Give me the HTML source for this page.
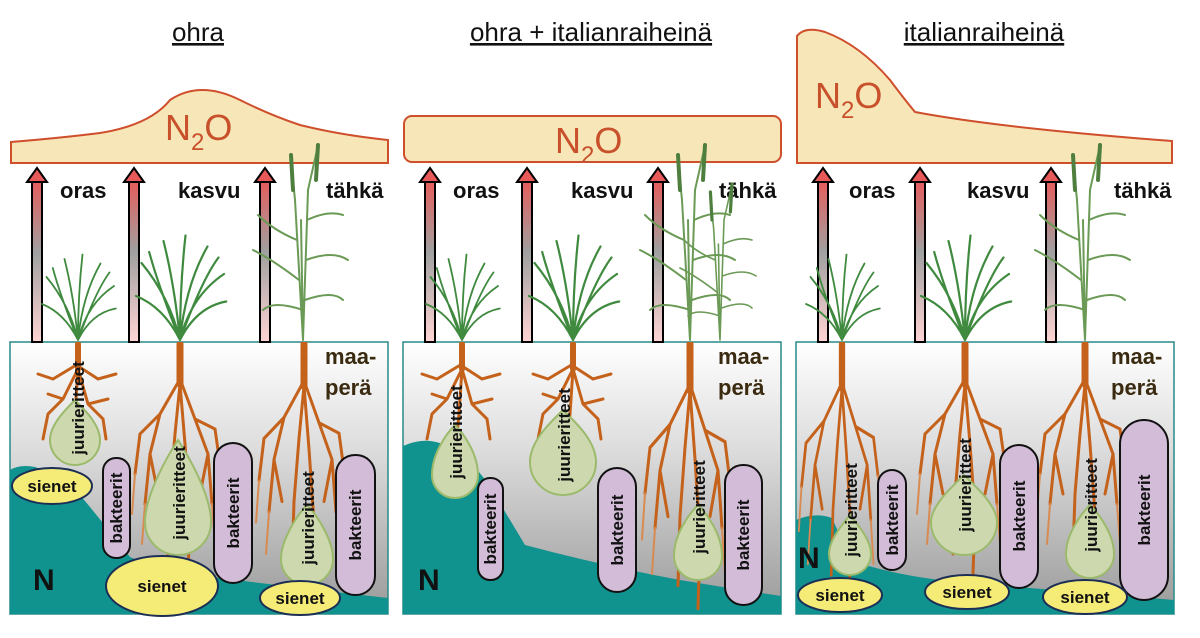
<!DOCTYPE html>
<html><head><meta charset="utf-8"><style>
html,body{margin:0;padding:0;background:#fff;width:1200px;height:638px;overflow:hidden}
svg{display:block}
text{font-family:"Liberation Sans","DejaVu Sans",sans-serif}
.t{font-size:26px;fill:#111;text-decoration:underline}
.lb{font-size:22px;font-weight:bold;fill:#111}
.n2o{font-size:36px;fill:#c8502a}
.ju{font-size:17px;font-weight:bold;fill:#111}
.mp{font-size:22px;font-weight:bold;fill:#3a2a10}
.N{font-size:30px;font-weight:bold;fill:#111}
</style></head><body>
<svg width="1200" height="638" viewBox="0 0 1200 638" xmlns="http://www.w3.org/2000/svg">
<defs>
<clipPath id="c1"><rect x="10" y="342" width="378" height="272"/></clipPath>
<clipPath id="c2"><rect x="403" y="342" width="378" height="272"/></clipPath>
<clipPath id="c3"><rect x="796" y="342" width="378" height="272"/></clipPath>
<linearGradient id="soil" x1="0" y1="0" x2="0" y2="1">
<stop offset="0" stop-color="#ffffff"/><stop offset="0.4" stop-color="#dcdcdc"/><stop offset="1" stop-color="#9a9a9a"/>
</linearGradient>
<linearGradient id="arr" x1="0" y1="0" x2="0" y2="1">
<stop offset="0" stop-color="#e85a5a"/><stop offset="0.45" stop-color="#a0a0a0"/><stop offset="1" stop-color="#ffd4d4"/>
</linearGradient>
<g id="arrow">
<rect x="-5" y="178" width="10" height="164" fill="url(#arr)" stroke="#000" stroke-width="2"/>
<polygon points="-10,182 0,168 10,182" fill="#e85a5a" stroke="#000" stroke-width="2"/>
</g>
<g id="root" fill="none" stroke="#c4621c" stroke-linecap="round">
<path d="M0,0 L0,40" stroke-width="7"/>
<path d="M0,35 L-20,70 L-30,110 L-35,160 M0,35 L15,75 L28,110 L32,160 M0,40 L-5,90 L-10,150 L-12,210 M0,40 L5,100 L10,170 L8,230 M-20,70 L-40,90 L-45,130 M15,75 L35,85 L40,120 M-30,110 L-22,150 M28,110 L20,150" stroke-width="3"/>
<path d="M-35,160 L-38,200 M32,160 L35,200 M-45,130 L-48,170 M40,120 L44,160" stroke-width="2" stroke="#d88a50"/>
</g>
<g id="rootS" fill="none" stroke="#c4621c" stroke-linecap="round">
<path d="M0,0 L0,25" stroke-width="6"/>
<path d="M0,20 L-25,35 L-40,30 M0,22 L20,35 L38,30 M0,25 L-15,55 L-30,70 L-35,95 M0,25 L10,60 L25,75 L28,95 M0,25 L-3,70 L-6,100 M-15,55 L-30,50 M10,60 L30,55" stroke-width="3"/>
</g>
<g id="grass" fill="none" stroke="#3f8a3f" stroke-width="2" stroke-linecap="round">
<path d="M0,0 Q-10,-40 -35,-70 M0,0 Q-5,-50 -15,-90 M0,0 Q5,-50 25,-85 M0,0 Q10,-40 40,-60 M0,0 Q-15,-30 -40,-40 M0,0 Q15,-30 42,-35 M0,0 Q0,-50 5,-95 M0,0 Q-20,-50 -28,-80 M0,0 Q20,-55 35,-75"/>
</g>
<g id="tall" fill="none" stroke="#6a9a55" stroke-width="2" stroke-linecap="round">
<path d="M0,0 L-8,-140 L-12,-180 M0,0 L5,-150 L14,-190 M0,0 L-2,-120 M-4,-60 Q-30,-80 -50,-90 M-6,-100 Q-30,-110 -45,-125 M3,-80 Q30,-90 45,-80 M4,-120 Q25,-130 40,-125 M0,-30 Q-30,-40 -40,-30 M2,-40 Q30,-50 40,-40"/>
<path d="M-10,-150 L-12,-185 M13,-160 L15,-195" stroke="#4f7f3f" stroke-width="4"/>
</g>
</defs>

<text class="t" x="198" y="41" text-anchor="middle">ohra</text>
<text class="t" x="591" y="41" text-anchor="middle">ohra + italianraiheinä</text>
<text class="t" x="984" y="41" text-anchor="middle">italianraiheinä</text>

<path d="M11,163 L11,142 Q60,138 100,133 Q150,125 170,100 Q200,80 240,100 Q270,115 300,125 Q340,135 388,140 L388,163 Z" fill="#f7e6b8" stroke="#cf4e2c" stroke-width="2"/>
<text class="n2o" x="165" y="140">N<tspan font-size="24" dy="10">2</tspan><tspan dy="-10">O</tspan></text>
<rect x="404" y="116" width="377" height="46" rx="8" fill="#f7e6b8" stroke="#cf4e2c" stroke-width="2"/>
<text class="n2o" x="555" y="153">N<tspan font-size="24" dy="10">2</tspan><tspan dy="-10">O</tspan></text>
<path d="M797,163 L797,36 Q805,26 825,32 Q860,45 890,80 Q905,100 915,112 Q1000,128 1172,141 L1172,163 Z" fill="#f7e6b8" stroke="#cf4e2c" stroke-width="2"/>
<text class="n2o" x="815" y="108">N<tspan font-size="24" dy="10">2</tspan><tspan dy="-10">O</tspan></text>

<g class="lb">
<text x="60" y="198">oras</text><text x="178" y="198">kasvu</text><text x="326" y="198">tähkä</text>
<text x="453" y="198">oras</text><text x="571" y="198">kasvu</text><text x="719" y="198">tähkä</text>
<text x="849" y="198">oras</text><text x="967" y="198">kasvu</text><text x="1114" y="198">tähkä</text>
</g>

<g stroke="#2a8a88" stroke-width="1.5">
<rect x="10" y="342" width="378" height="272" fill="url(#soil)"/>
<rect x="403" y="342" width="378" height="272" fill="url(#soil)"/>
<rect x="796" y="342" width="378" height="272" fill="url(#soil)"/>
</g>
<path d="M10,470 Q20,464 35,467 Q60,475 80,495 Q105,525 130,557 Q160,570 220,578 Q300,588 388,598 L388,614 L10,614 Z" fill="#10928e"/>
<path d="M403,446 Q425,436 445,445 Q475,460 495,495 Q510,520 525,545 Q600,565 680,580 Q740,590 781,596 L781,614 L403,614 Z" fill="#10928e"/>
<path d="M796,520 Q815,512 832,518 Q842,540 850,560 Q900,578 980,584 Q1080,592 1174,600 L1174,614 L796,614 Z" fill="#10928e"/>

<use href="#arrow" x="37"/><use href="#arrow" x="134"/><use href="#arrow" x="265"/>
<use href="#arrow" x="430"/><use href="#arrow" x="527"/><use href="#arrow" x="658"/>
<use href="#arrow" x="823"/><use href="#arrow" x="920"/><use href="#arrow" x="1051"/>

<use href="#grass" transform="translate(78,340) scale(0.9)"/>
<use href="#grass" transform="translate(180,340) scale(1.1)"/>
<use href="#tall" transform="translate(303,340)"/>
<use href="#grass" transform="translate(462,340) scale(0.9)"/>
<use href="#grass" transform="translate(573,340) scale(1.1)"/>
<use href="#tall" transform="translate(690,340)"/>
<use href="#tall" transform="translate(720,340) scale(0.8)"/>
<use href="#grass" transform="translate(842,340) scale(0.9)"/>
<use href="#grass" transform="translate(965,340) scale(1.1)"/>
<use href="#tall" transform="translate(1085,340)"/>

<g clip-path="url(#c1)">
<use href="#rootS" transform="translate(78,344)"/>
<use href="#root" transform="translate(180,344)"/>
<use href="#root" transform="translate(304,344) scale(1,1.05)"/>
</g>
<g clip-path="url(#c2)">
<use href="#rootS" transform="translate(462,344)"/>
<use href="#rootS" transform="translate(573,344)"/>
<use href="#root" transform="translate(690,344) scale(1,1.15)"/>
</g>
<g clip-path="url(#c3)">
<use href="#root" transform="translate(842,344) scale(0.9,1.1)"/>
<use href="#root" transform="translate(965,344)"/>
<use href="#root" transform="translate(1085,344)"/>
</g>

<g fill="#cdd8ae" stroke="#9cba6c" stroke-width="2">
<path d="M75,400 C85,410 100,425 100,440 A25,25 0 0 1 50,440 C50,425 65,410 75,400Z"/>
<path d="M178,440 C188,455 211,495 211,522 A33,33 0 0 1 145,522 C145,495 168,455 178,440Z"/>
<path d="M307,505 C317,515 333,540 333,559 A26,26 0 0 1 281,559 C281,540 297,515 307,505Z"/>
<path d="M455,425 C465,435 478,455 478,475 A23,23 0 0 1 432,475 C432,455 445,435 455,425Z"/>
<path d="M563,410 C573,420 596,440 596,462 A33,33 0 0 1 530,462 C530,440 553,420 563,410Z"/>
<path d="M698,505 C708,515 722,535 722,556 A24,24 0 0 1 674,556 C674,535 688,515 698,505Z"/>
<path d="M850,515 C858,525 871,540 871,554 A21,21 0 0 1 829,554 C829,540 842,525 850,515Z"/>
<path d="M964,475 C974,485 997,505 997,522 A33,33 0 0 1 931,522 C931,505 954,485 964,475Z"/>
<path d="M1090,505 C1100,515 1114,535 1114,554 A24,24 0 0 1 1066,554 C1066,535 1080,515 1090,505Z"/>
</g>
<g class="ju" text-anchor="middle">
<text transform="translate(84,408) rotate(-90)">juurieritteet</text>
<text transform="translate(185,493) rotate(-90)">juurieritteet</text>
<text transform="translate(314,518) rotate(-90)">juurieritteet</text>
<text transform="translate(462,432) rotate(-90)">juurieritteet</text>
<text transform="translate(570,435) rotate(-90)">juurieritteet</text>
<text transform="translate(705,507) rotate(-90)">juurieritteet</text>
<text transform="translate(857,510) rotate(-90)">juurieritteet</text>
<text transform="translate(971,485) rotate(-90)">juurieritteet</text>
<text transform="translate(1097,505) rotate(-90)">juurieritteet</text>
</g>

<g fill="#d2bcd8" stroke="#111" stroke-width="2">
<rect x="103" y="458" width="27" height="100" rx="13"/>
<rect x="214" y="443" width="38" height="140" rx="19"/>
<rect x="336" y="455" width="39" height="140" rx="19"/>
<rect x="478" y="478" width="25" height="102" rx="12"/>
<rect x="598" y="468" width="38" height="124" rx="19"/>
<rect x="725" y="465" width="37" height="140" rx="18"/>
<rect x="878" y="470" width="28" height="100" rx="14"/>
<rect x="1000" y="445" width="38" height="143" rx="19"/>
<rect x="1120" y="420" width="48" height="180" rx="24"/>
</g>
<g class="ju" text-anchor="middle">
<text transform="translate(122,508) rotate(-90)">bakteerit</text>
<text transform="translate(239,513) rotate(-90)">bakteerit</text>
<text transform="translate(361,525) rotate(-90)">bakteerit</text>
<text transform="translate(496,529) rotate(-90)">bakteerit</text>
<text transform="translate(623,530) rotate(-90)">bakteerit</text>
<text transform="translate(749,535) rotate(-90)">bakteerit</text>
<text transform="translate(898,520) rotate(-90)">bakteerit</text>
<text transform="translate(1025,516) rotate(-90)">bakteerit</text>
<text transform="translate(1150,510) rotate(-90)">bakteerit</text>
</g>

<g fill="#f5ec78" stroke="#1c2e55" stroke-width="2">
<ellipse cx="52" cy="486" rx="40" ry="18"/>
<ellipse cx="162" cy="586" rx="56" ry="30"/>
<ellipse cx="300" cy="598" rx="40" ry="17"/>
<ellipse cx="840" cy="595" rx="42" ry="17"/>
<ellipse cx="967" cy="592" rx="42" ry="17"/>
<ellipse cx="1085" cy="597" rx="42" ry="17"/>
</g>
<g class="ju" text-anchor="middle" font-size="17">
<text x="52" y="492">sienet</text>
<text x="162" y="592">sienet</text>
<text x="300" y="604">sienet</text>
<text x="840" y="601">sienet</text>
<text x="967" y="598">sienet</text>
<text x="1085" y="603">sienet</text>
</g>

<g class="mp">
<text x="325" y="364">maa-</text><text x="325" y="395">perä</text>
<text x="718" y="364">maa-</text><text x="718" y="395">perä</text>
<text x="1111" y="364">maa-</text><text x="1111" y="395">perä</text>
</g>
<text class="N" x="33" y="590">N</text>
<text class="N" x="418" y="590">N</text>
<text class="N" x="798" y="568">N</text>
</svg>
</body></html>
